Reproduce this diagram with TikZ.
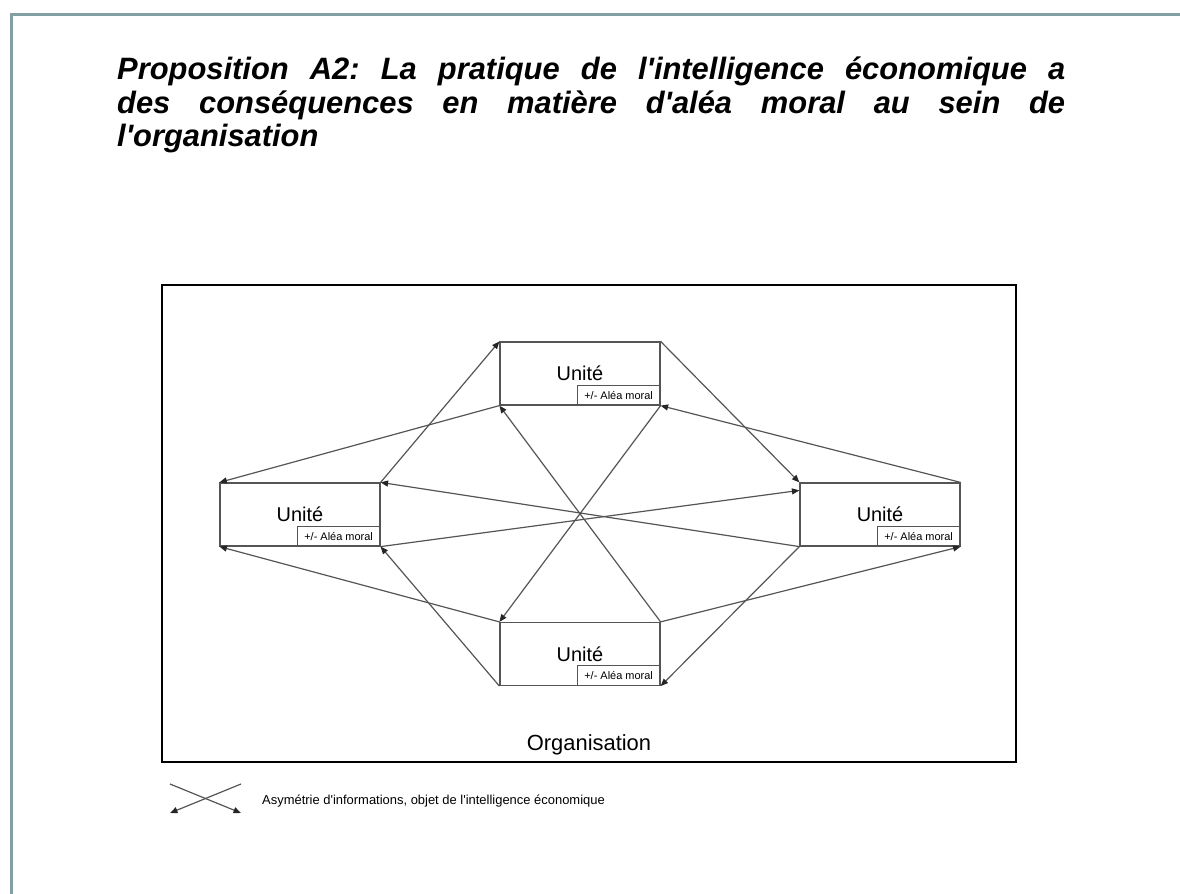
\documentclass[tikz,border=0pt]{standalone}
\usepackage{fontspec}
\setmainfont{Liberation Sans}[Ligatures=TeXOff]
\usetikzlibrary{arrows.meta,positioning,calc}
\definecolor{slideedge}{RGB}{130,160,162}
\definecolor{lngray}{RGB}{85,85,85}
\tikzset{
  unit/.style   ={draw=lngray, line width=1.2bp, minimum width=160bp, minimum height=63bp, inner sep=0pt, font=\fontsize{20}{24}\selectfont},
  alea/.style   ={draw=lngray, line width=1bp, minimum width=83bp, minimum height=20bp, inner sep=1bp, anchor=south east, font=\fontsize{11}{13}\selectfont},
  arr/.style    ={-{Triangle[length=7.5bp,width=6bp,color=black!85]}, line width=1.2bp, draw=lngray},
  orgbox/.style ={draw=black, line width=1.8bp},
}

\begin{document}
\frenchspacing
\begin{tikzpicture}[x=1bp, y=-1bp]
  \useasboundingbox (0,0) rectangle (1180,894);
  \draw[slideedge, line width=3bp] (11.5,14.5) rectangle (1220,930);
  % title
  \node[anchor=north west, inner sep=0pt, text width=948bp, align=justify,
        font=\fontsize{31}{33.5}\selectfont\bfseries\itshape] (title) at (117,57)
    {Proposition A2: La pratique de l'intelligence économique a\linebreak des conséquences en matière d'aléa moral au sein de\linebreak l'organisation};
  % organisation frame
  \draw[orgbox] (162,285) coordinate (orgnw) rectangle (1016,762) coordinate (orgse);
  \node[font=\fontsize{22}{26}\selectfont] (orgname) at (589,745) {Organisation};
  % units
  \node[unit] (top) at (580,373.5) {Unité};
  \node[unit] (lft) at (300,514.5) {Unité};
  \node[unit] (rgt) at (880,514.5) {Unité};
  \node[unit] (bot) at (580,654)   {Unité};
  \foreach \u in {top,lft,rgt,bot}
    \node[alea] (\u-alea) at (\u.south east) {+/- Aléa moral};
  \coordinate (rin) at ($(rgt.north west)+(0,8)$);
  % asymmetries across
  \draw[arr] (bot.north east) -- (top.south west);
  \draw[arr] (top.south east) -- (bot.north west);
  \draw[arr] (rgt.south west) -- (lft.north east);
  \draw[arr] (lft.south east) -- (rin);
  % near neighbours
  \draw[arr] (lft.north east) -- (top.north west);
  \draw[arr] (top.north east) -- (rgt.north west);
  \draw[arr] (rgt.south west) -- (bot.south east);
  \draw[arr] (bot.south west) -- (lft.south east);
  % far corners
  \draw[arr] (top.south west) -- (lft.north west);
  \draw[arr] (rgt.north east) -- (top.south east);
  \draw[arr] (bot.north east) -- (rgt.south east);
  \draw[arr] (bot.north west) -- (lft.south west);
  % legend
  \coordinate (lga) at (170,784);
  \coordinate (lgb) at (241,813);
  \coordinate (lgc) at (241,784);
  \coordinate (lgd) at (170,813);
  \draw[arr] (lga) -- (lgb);
  \draw[arr] (lgc) -- (lgd);
  \node[anchor=west, inner sep=0pt, font=\fontsize{13}{15}\selectfont] (legend) at (262,801)
    {Asymétrie d'informations, objet de l'intelligence économique};
\end{tikzpicture}
\end{document}
